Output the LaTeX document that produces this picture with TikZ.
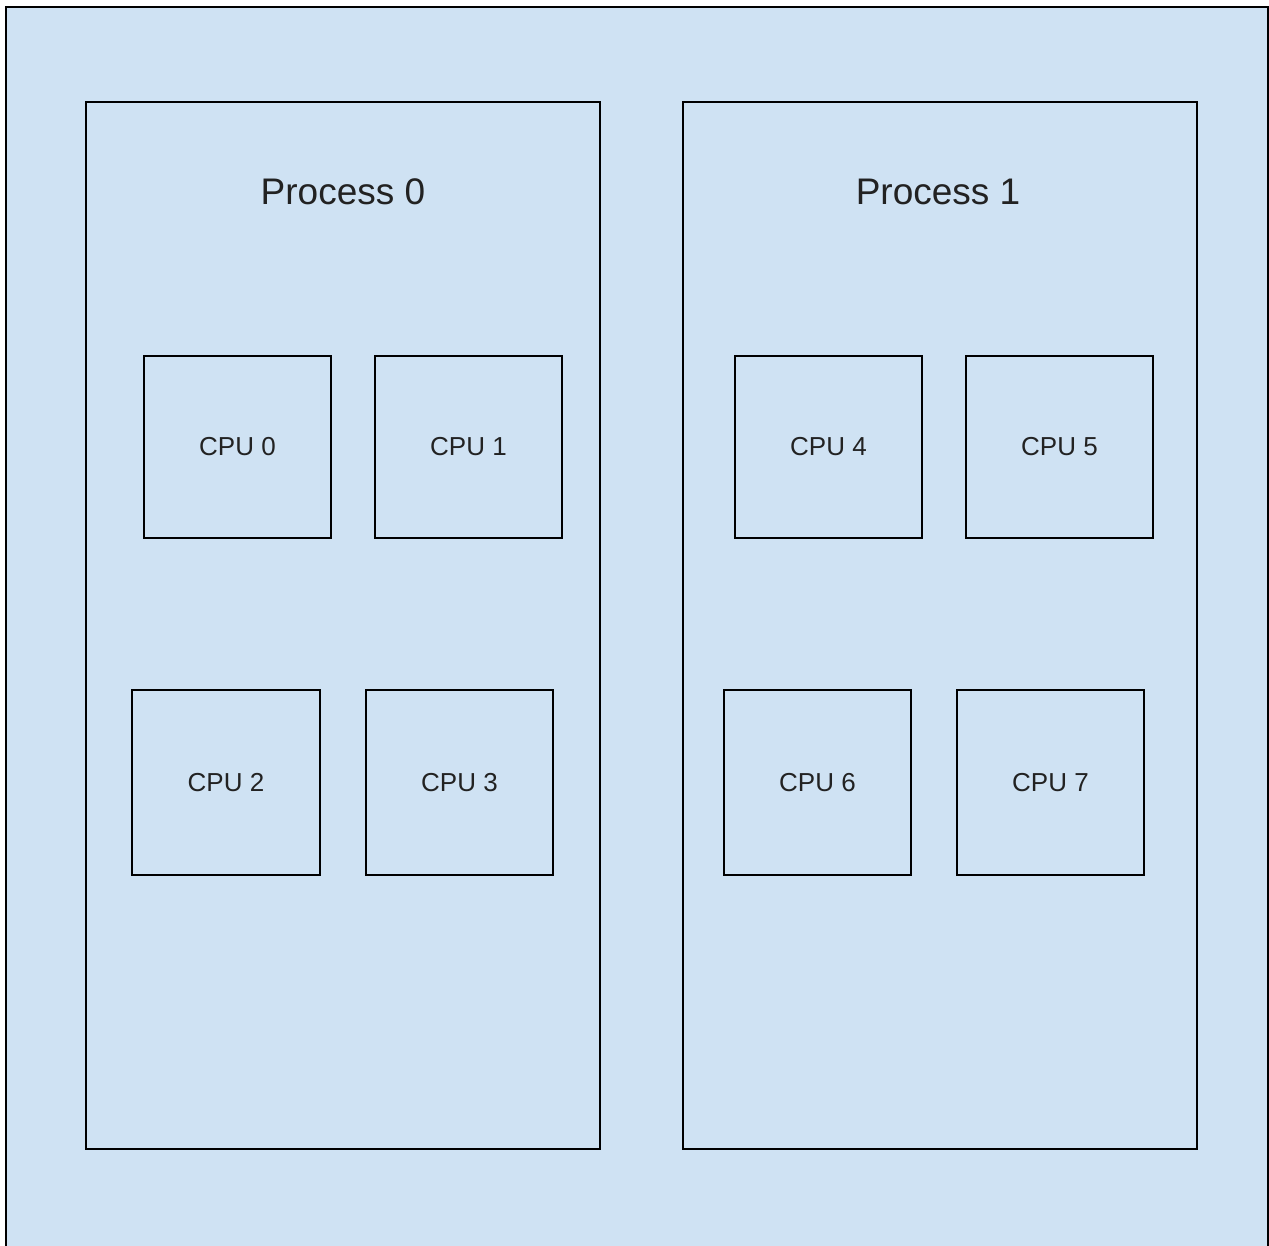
\documentclass[tikz,border=0pt]{standalone}
\usepackage{fontspec}
\setmainfont{Liberation Sans}
\definecolor{bgblue}{HTML}{CFE2F3}
\definecolor{txt}{HTML}{222222}
\begin{document}
\begin{tikzpicture}[x=1pt,y=-1pt,
  box/.style={draw=black,line width=2.7pt},
  cpu/.style={draw=black,line width=2.7pt,text=txt,font=\fontsize{26}{30}\selectfont},
  proc/.style={text=txt,font=\fontsize{37}{44}\selectfont}]
\useasboundingbox (0,0) rectangle (1269,1245);
\clip (0,0) rectangle (1269,1245);
\fill[white] (0,0) rectangle (1269,1245);
\draw[box,fill=bgblue] (6,7) rectangle (1268,1260);
% processes
\draw[box] (86,102) rectangle (600,1149);
\draw[box] (683,102) rectangle (1197,1149);
\node[proc] (p0) at (343,192) {Process 0};
\node[proc] (p1) at (938,192) {Process 1};
% CPUs
\node[cpu,minimum width=187pt,minimum height=182pt] (c0) at (237.5,447) {CPU 0};
\node[cpu,minimum width=187pt,minimum height=182pt] (c1) at (468.5,447) {CPU 1};
\node[cpu,minimum width=188pt,minimum height=185pt] (c2) at (226,782.5) {CPU 2};
\node[cpu,minimum width=187pt,minimum height=185pt] (c3) at (459.5,782.5) {CPU 3};
\node[cpu,minimum width=187pt,minimum height=182pt] (c4) at (828.5,447) {CPU 4};
\node[cpu,minimum width=187pt,minimum height=182pt] (c5) at (1059.5,447) {CPU 5};
\node[cpu,minimum width=187pt,minimum height=185pt] (c6) at (817.5,782.5) {CPU 6};
\node[cpu,minimum width=187pt,minimum height=185pt] (c7) at (1050.5,782.5) {CPU 7};
\end{tikzpicture}
\end{document}
